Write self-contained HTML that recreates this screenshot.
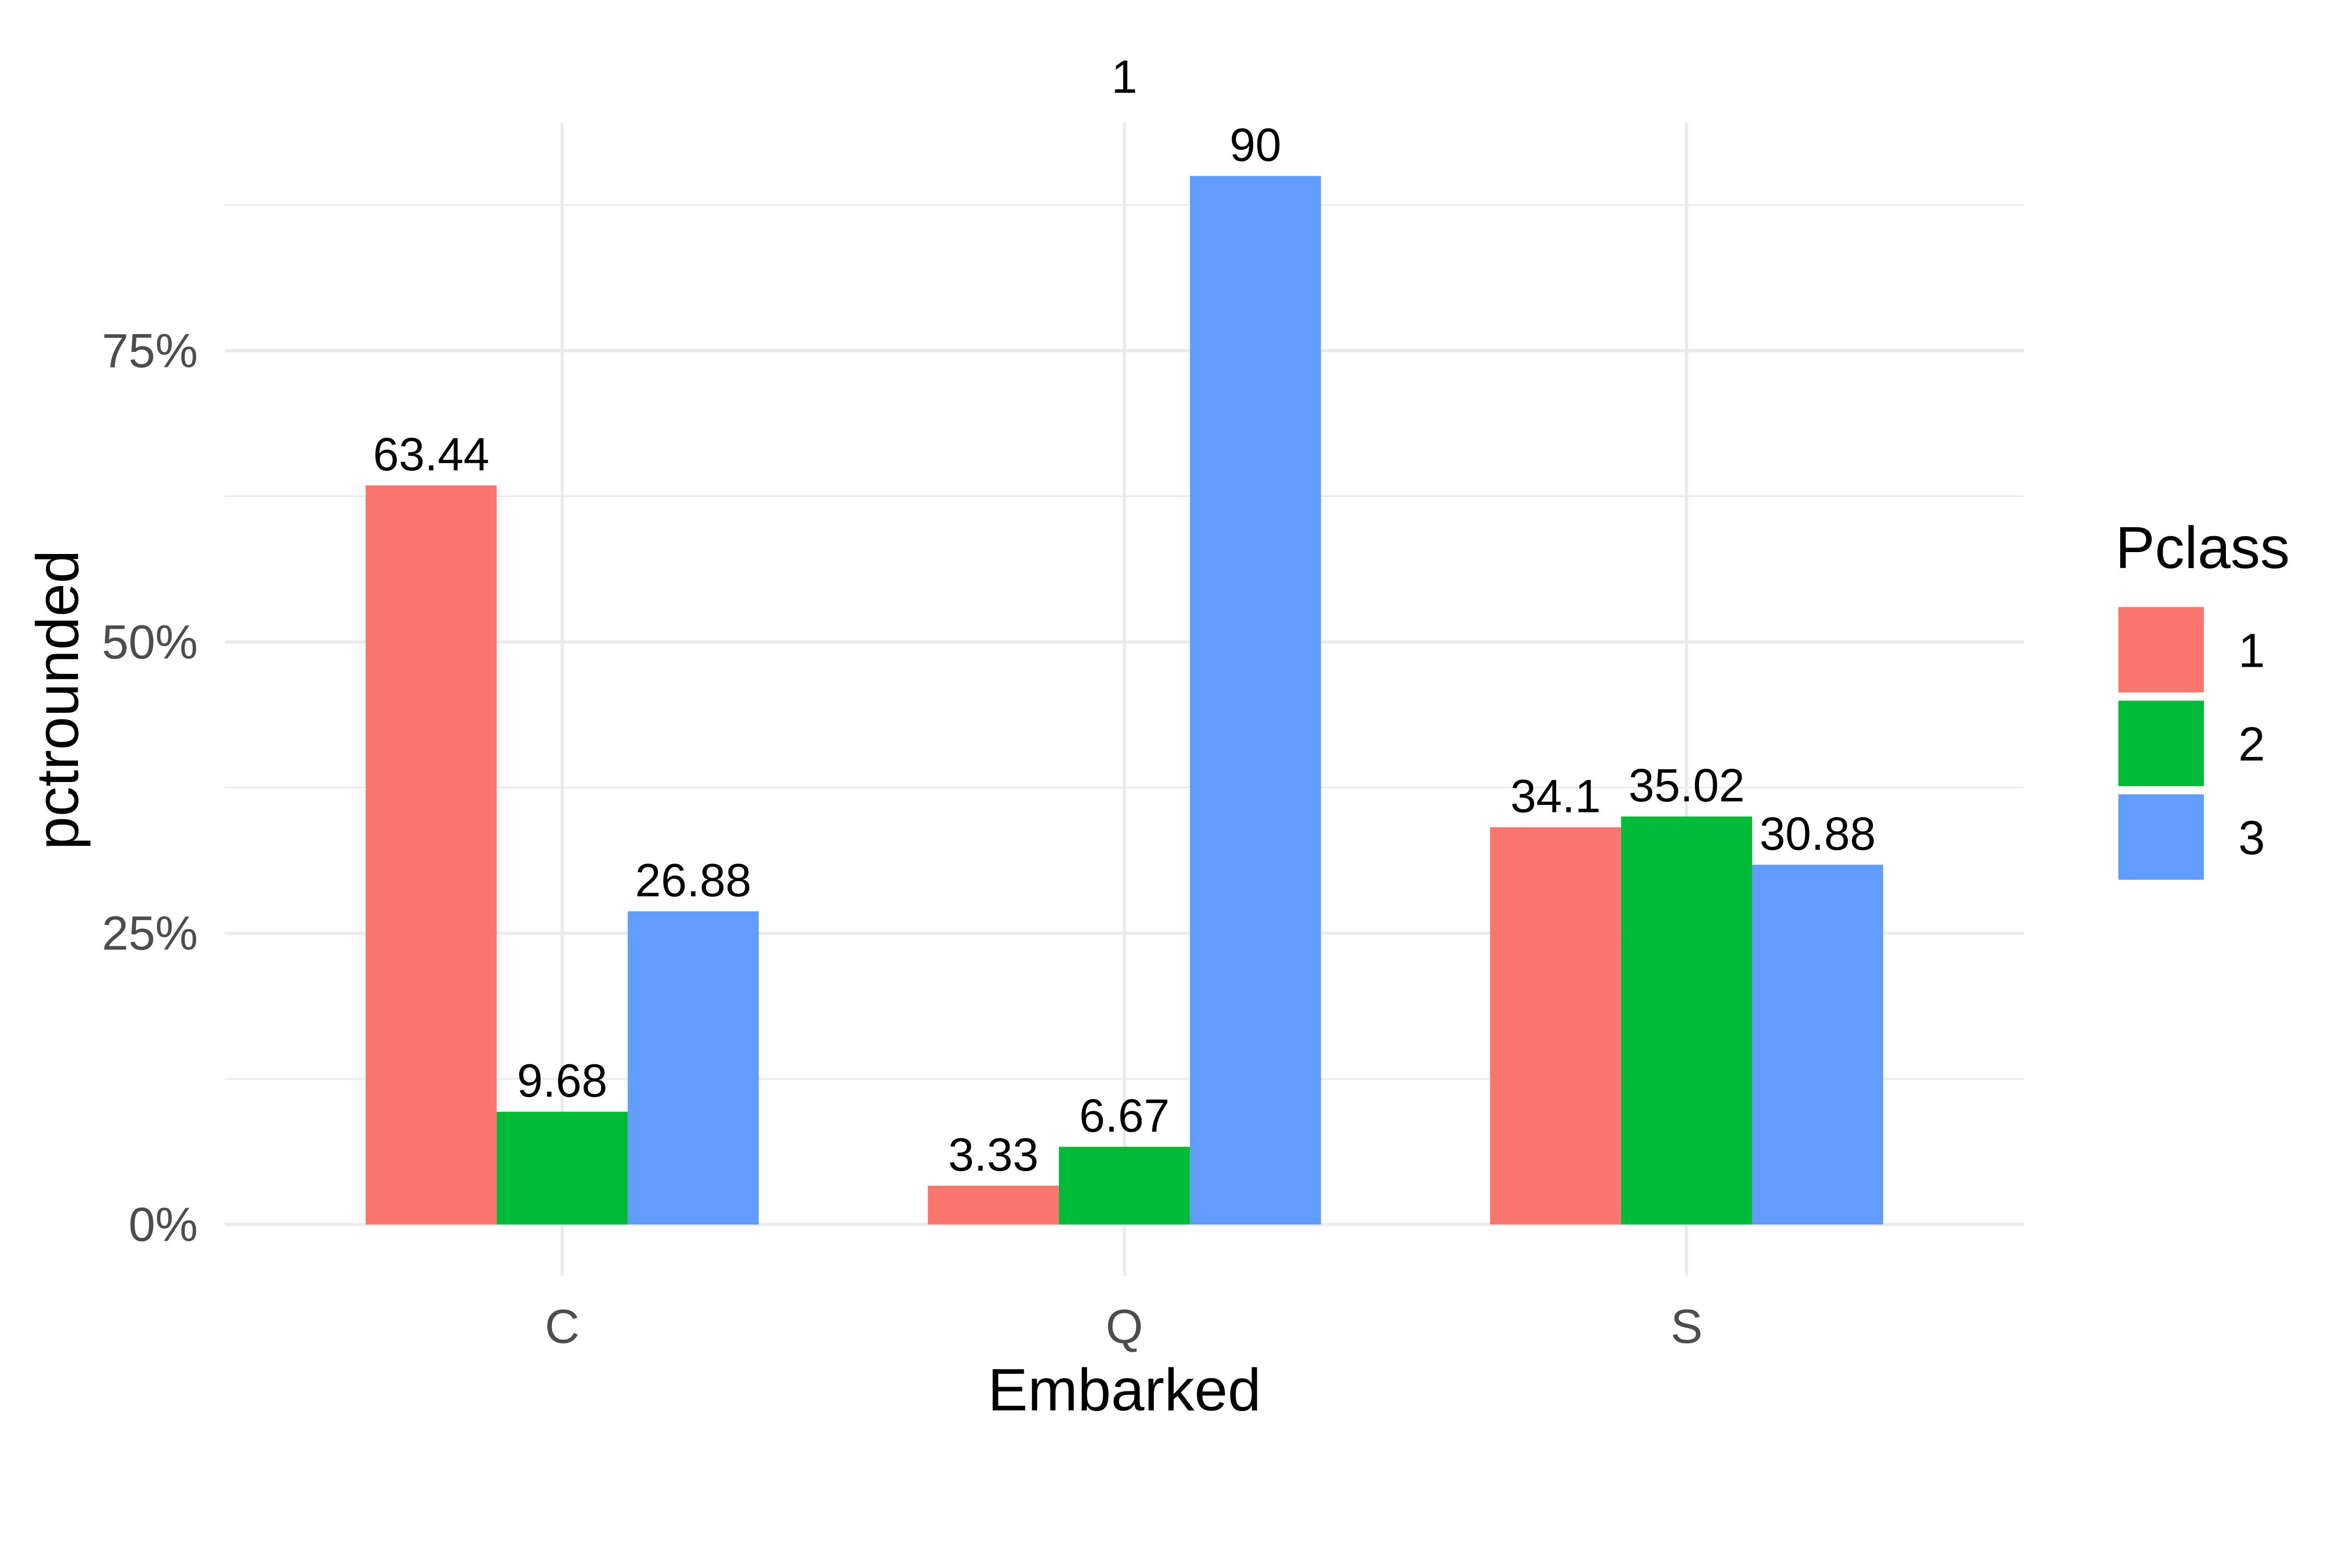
<!DOCTYPE html>
<html><head><meta charset="utf-8"><style>html,body{margin:0;padding:0;background:#fff;overflow:hidden}svg{display:block;width:100vw;height:calc(100vw * 3337 / 5400)}</style></head>
<body>
<svg id="chart" viewBox="0 0 1567.5 968.7" preserveAspectRatio="none" xmlns="http://www.w3.org/2000/svg" font-family="Liberation Sans, sans-serif">
<rect width="1567.5" height="968.7" fill="#fff"/>
<g id="grid"></g>
<g id="bars"></g>
<g id="labels"></g>
<g id="axes"></g>
<text x="750" y="62" font-size="31" text-anchor="middle">1</text>
<text x="750" y="941" font-size="40" text-anchor="middle">Embarked</text>
<text transform="translate(52,467) rotate(-90)" font-size="40" text-anchor="middle">pctrounded</text>
<g>
<text x="1411" y="379" font-size="39.5">Pclass</text>
<g id="legend-entries"></g>
</g>
</svg>
<script>
const categories = ["C","Q","S"];
const classes = ["1","2","3"];
const series1 = [63.44, 3.33, 34.1];
const series2 = [9.68, 6.67, 35.02];
const series3 = [26.88, 90, 30.88];
const yTicks = [0,25,50,75];
const yTickLabels = ["0%","25%","50%","75%"];
const colors = ["#F8766D","#00BA38","#619CFF"];
const NS="http://www.w3.org/2000/svg";
function mk(t,a,p){const e=document.createElementNS(NS,t);for(const k in a)e.setAttribute(k,a[k]);p.appendChild(e);return e;}
const y0=817, unit=(817-234)/75;
function yS(v){return y0-v*unit;}
function xS(i){return 375+i*375;}
const bw=87.4;
const grid=document.getElementById('grid');
[12.5,37.5,62.5,87.5].forEach(v=>{const l=mk('line',{x1:150,x2:1350,y1:yS(v),y2:yS(v),stroke:'#ebebeb','stroke-width':1.1},grid);

});
yTicks.forEach((v,i)=>{const l=mk('line',{x1:150,x2:1350,y1:yS(v),y2:yS(v),stroke:'#ebebeb','stroke-width':2.2},grid);


const t=mk('text',{x:132,y:yS(v)+11,'font-size':32,fill:'#4d4d4d','text-anchor':'end'},document.getElementById('axes'));t.textContent=yTickLabels[i];

});
categories.forEach((c,i)=>{const l=mk('line',{x1:xS(i),x2:xS(i),y1:82,y2:851,stroke:'#ebebeb','stroke-width':2.2},grid);


const t=mk('text',{x:xS(i),y:896,'font-size':32,fill:'#4d4d4d','text-anchor':'middle'},document.getElementById('axes'));t.textContent=c;

});
const all=[series1,series2,series3];
all.forEach((s,j)=>{s.forEach((v,i)=>{const x=xS(i)+(j-1)*bw-bw/2;
const r=mk('rect',{x:x,y:yS(v),width:bw,height:y0-yS(v),fill:colors[j]},document.getElementById('bars'));


const t=mk('text',{x:x+bw/2,y:yS(v)-10,'font-size':31,'text-anchor':'middle'},document.getElementById('labels'));t.textContent=String(v);

});});
const le=document.getElementById('legend-entries');
classes.forEach((c,j)=>{const g=mk('g',{},le);


mk('rect',{x:1413,y:405+j*62.5,width:57,height:57,fill:colors[j]},g);
const t=mk('text',{x:1493,y:445+j*62.5,'font-size':32},g);t.textContent=c;});
</script>
</body></html>
